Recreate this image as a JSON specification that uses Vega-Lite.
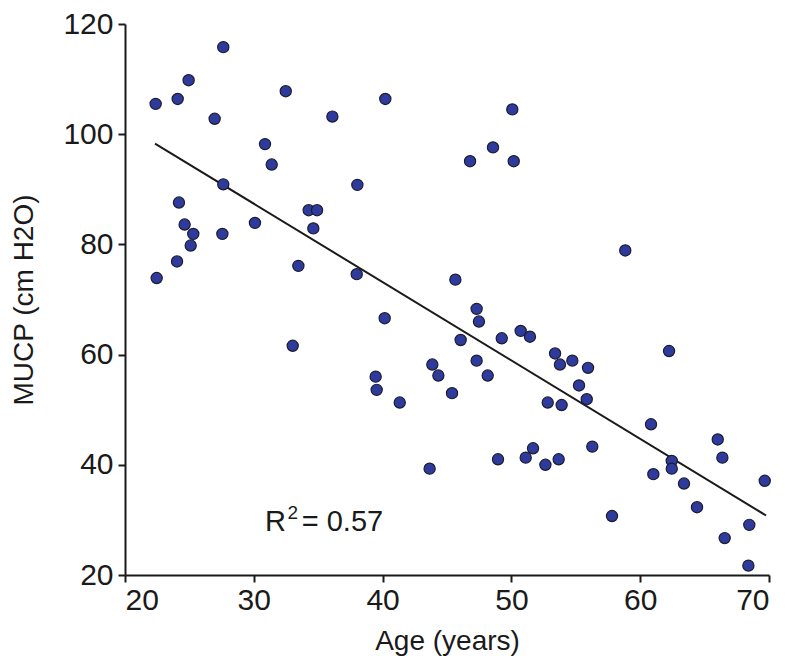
{
  "$schema": "https://vega.github.io/schema/vega-lite/v6.json",
  "autosize": "none",
  "width": 644,
  "height": 551,
  "padding": {"left": 125, "top": 24, "right": 26, "bottom": 95},
  "background": "white",
  "config": {
    "view": {"stroke": null},
    "font": "Liberation Sans",
    "axis": {
      "grid": false,
      "domainColor": "#1a1a1a",
      "domainWidth": 2,
      "tickColor": "#1a1a1a",
      "tickWidth": 2,
      "tickSize": 7,
      "labelFont": "Liberation Sans",
      "labelFontSize": 30,
      "labelColor": "#1a1a1a",
      "titleFont": "Liberation Sans",
      "titleFontSize": 28,
      "titleFontWeight": "normal",
      "titleColor": "#1a1a1a"
    }
  },
  "datasets": {
    "pts": [
      {"age": 27.63, "mucp": 115.8},
      {"age": 24.94, "mucp": 109.8},
      {"age": 24.09, "mucp": 106.4},
      {"age": 22.38, "mucp": 105.5},
      {"age": 32.48, "mucp": 107.8},
      {"age": 26.96, "mucp": 102.8},
      {"age": 36.1, "mucp": 103.2},
      {"age": 30.87, "mucp": 98.2},
      {"age": 31.39, "mucp": 94.5},
      {"age": 27.63, "mucp": 90.9},
      {"age": 24.19, "mucp": 87.6},
      {"age": 34.26, "mucp": 86.2},
      {"age": 34.91, "mucp": 86.2},
      {"age": 24.63, "mucp": 83.6},
      {"age": 30.09, "mucp": 83.9},
      {"age": 34.62, "mucp": 82.9},
      {"age": 25.3, "mucp": 81.9},
      {"age": 27.56, "mucp": 81.9},
      {"age": 25.1, "mucp": 79.8},
      {"age": 24.04, "mucp": 76.9},
      {"age": 33.46, "mucp": 76.1},
      {"age": 22.46, "mucp": 73.9},
      {"age": 40.21, "mucp": 106.4},
      {"age": 50.07, "mucp": 104.5},
      {"age": 48.57, "mucp": 97.6},
      {"age": 46.79, "mucp": 95.1},
      {"age": 50.18, "mucp": 95.1},
      {"age": 38.04, "mucp": 90.8},
      {"age": 37.99, "mucp": 74.6},
      {"age": 45.65, "mucp": 73.6},
      {"age": 58.84, "mucp": 78.9},
      {"age": 33.02, "mucp": 61.6},
      {"age": 40.16, "mucp": 66.6},
      {"age": 47.3, "mucp": 68.3},
      {"age": 47.48, "mucp": 66.0},
      {"age": 46.06, "mucp": 62.65},
      {"age": 49.25, "mucp": 62.96},
      {"age": 50.72, "mucp": 64.3},
      {"age": 51.44, "mucp": 63.25},
      {"age": 53.39, "mucp": 60.2},
      {"age": 43.86, "mucp": 58.2},
      {"age": 44.33, "mucp": 56.2},
      {"age": 47.3, "mucp": 58.9},
      {"age": 48.16, "mucp": 56.2},
      {"age": 39.46, "mucp": 56.0},
      {"age": 39.54, "mucp": 53.6},
      {"age": 41.33, "mucp": 51.3},
      {"age": 45.39, "mucp": 53.0},
      {"age": 52.82, "mucp": 51.3},
      {"age": 43.65, "mucp": 39.3},
      {"age": 48.96, "mucp": 41.0},
      {"age": 51.11, "mucp": 41.3},
      {"age": 51.68, "mucp": 43.0},
      {"age": 52.64, "mucp": 40.0},
      {"age": 53.67, "mucp": 41.0},
      {"age": 53.77, "mucp": 58.2},
      {"age": 54.73, "mucp": 58.9},
      {"age": 55.95, "mucp": 57.6},
      {"age": 55.25, "mucp": 54.4},
      {"age": 55.85, "mucp": 51.9},
      {"age": 53.9, "mucp": 50.85},
      {"age": 56.28, "mucp": 43.3},
      {"age": 62.24, "mucp": 60.65},
      {"age": 60.84, "mucp": 47.35},
      {"age": 66.02, "mucp": 44.6},
      {"age": 66.38, "mucp": 41.3},
      {"age": 62.45, "mucp": 40.7},
      {"age": 62.45, "mucp": 39.3},
      {"age": 61.02, "mucp": 38.3},
      {"age": 63.4, "mucp": 36.6},
      {"age": 69.67, "mucp": 37.1},
      {"age": 64.41, "mucp": 32.3},
      {"age": 57.81, "mucp": 30.7},
      {"age": 68.47, "mucp": 29.1},
      {"age": 66.56, "mucp": 26.7},
      {"age": 68.4, "mucp": 21.7}
    ],
    "fit": [
      {"age": 22.33, "mucp": 98.3},
      {"age": 69.77, "mucp": 30.8}
    ],
    "note": [
      {"age": 30.87, "mucp": 27.9, "label": "R"},
      {"age": 33.72, "mucp": 27.9, "label": "= 0.57"}
    ],
    "sup": [
      {"age": 32.62, "mucp": 30.2, "label": "2"}
    ]
  },
  "layer": [
    {
      "data": {"name": "fit"},
      "mark": {"type": "line", "color": "#1a1a1a", "strokeWidth": 2},
      "encoding": {
        "x": {"field": "age", "type": "quantitative",
              "scale": {"domain": [20, 70], "nice": false, "zero": false},
              "axis": {"title": "Age (years)", "values": [20, 30, 40, 50, 60, 70], "labelPadding": 3, "titlePadding": 12}},
        "y": {"field": "mucp", "type": "quantitative",
              "scale": {"domain": [20, 120], "nice": false, "zero": false},
              "axis": {"title": "MUCP (cm H2O)", "values": [20, 40, 60, 80, 100, 120], "labelPadding": 5, "titlePadding": 24}}
      }
    },
    {
      "data": {"name": "pts"},
      "mark": {"type": "circle", "size": 125, "color": "#2e3b9c", "opacity": 1, "stroke": "#1c1c30", "strokeWidth": 1.2},
      "encoding": {
        "x": {"field": "age", "type": "quantitative"},
        "y": {"field": "mucp", "type": "quantitative"}
      }
    },
    {
      "data": {"name": "note"},
      "mark": {"type": "text", "align": "left", "baseline": "alphabetic", "fontSize": 29, "font": "Liberation Sans", "color": "#1a1a1a"},
      "encoding": {
        "x": {"field": "age", "type": "quantitative"},
        "y": {"field": "mucp", "type": "quantitative"},
        "text": {"field": "label"}
      }
    },
    {
      "data": {"name": "sup"},
      "mark": {"type": "text", "align": "left", "baseline": "alphabetic", "fontSize": 19, "font": "Liberation Sans", "color": "#1a1a1a"},
      "encoding": {
        "x": {"field": "age", "type": "quantitative"},
        "y": {"field": "mucp", "type": "quantitative"},
        "text": {"field": "label"}
      }
    }
  ]
}
